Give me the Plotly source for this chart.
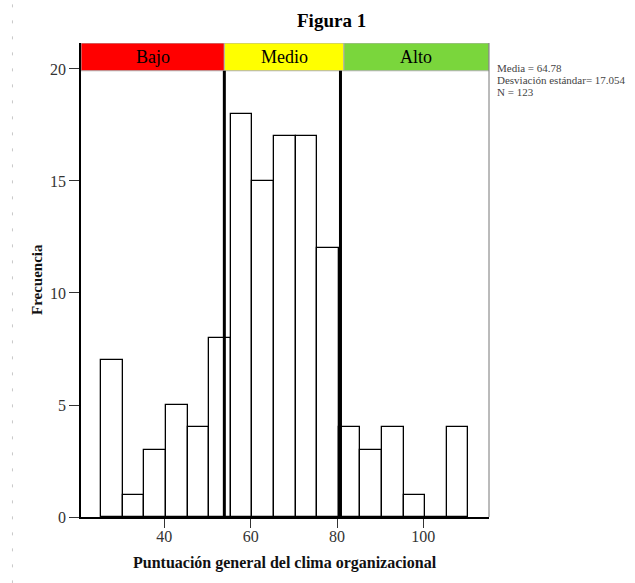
import plotly.graph_objects as go

# Data
bin_left = [25.4, 30.4, 35.4, 40.4, 45.4, 50.4, 55.4, 60.4, 65.4, 70.4, 75.4,
            80.4, 85.4, 90.4, 95.4, 100.4, 105.4]
counts = [7, 1, 3, 5, 4, 8, 18, 15, 17, 17, 12, 4, 3, 4, 1, 0, 4]
bin_width = 5
cut_points = [53.9, 80.8]
band_names = ["Bajo", "Medio", "Alto"]
band_edges = [20.7, 53.9, 81.6, 115.2]
band_colors = ["#ff0000", "#ffff00", "#7ad63c"]
x_ticks = [40, 60, 80, 100]
y_ticks = [0, 5, 10, 15, 20]
stats_lines = ["Media = 64.78", "Desviación estándar= 17.054", "N = 123"]

x_range = [band_edges[0], band_edges[-1]]
y_range = [0, 21.16]
band_bottom = 19.92

SERIF = "Liberation Serif, Times New Roman, serif"

fig = go.Figure()
fig.add_trace(go.Bar(
    x=[b + bin_width / 2 for b in bin_left],
    y=counts,
    width=bin_width,
    marker=dict(color="white", line=dict(color="black", width=1.3)),
    hoverinfo="x+y",
))

shapes = []
# colored bands at top
for i, name in enumerate(band_names):
    shapes.append(dict(type="rect", xref="x", yref="y",
                       x0=band_edges[i], x1=band_edges[i + 1],
                       y0=band_bottom, y1=y_range[1],
                       fillcolor=band_colors[i],
                       line=dict(color="#b0b0b0", width=1), layer="above"))
# thick vertical cut lines
for c in cut_points:
    shapes.append(dict(type="line", xref="x", yref="y", x0=c, x1=c,
                       y0=0, y1=band_bottom,
                       line=dict(color="black", width=3), layer="above"))
# right frame line
shapes.append(dict(type="line", xref="paper", yref="paper", x0=1, x1=1, y0=0, y1=1,
                   line=dict(color="#777777", width=1)))
# faint dashed guide at far left of page
shapes.append(dict(type="line", xref="paper", yref="paper",
                   x0=-0.168, x1=-0.168, y0=-0.14, y1=1.09,
                   line=dict(color="#c8c8c8", width=1, dash="3px,13px")))

annotations = []
for i, name in enumerate(band_names):
    annotations.append(dict(x=(band_edges[i] + band_edges[i + 1]) / 2,
                            y=(band_bottom + y_range[1]) / 2,
                            xref="x", yref="y", text=name, showarrow=False,
                            font=dict(family=SERIF, size=18, color="black")))
annotations.append(dict(x=0.615, y=1, xref="paper", yref="paper", yshift=23,
                        yanchor="middle",
                        text="<b>Figura 1</b>", showarrow=False,
                        font=dict(family=SERIF, size=19, color="black")))
annotations.append(dict(x=0.5, y=0, xref="paper", yref="paper", yshift=-46,
                        yanchor="middle",
                        text="<b>Puntuación general del clima organizacional</b>",
                        showarrow=False,
                        font=dict(family=SERIF, size=16, color="#111")))
annotations.append(dict(x=0, y=0.5, xref="paper", yref="paper", xshift=-44,
                        xanchor="center", yanchor="middle",
                        text="<b>Frecuencia</b>", textangle=-90, showarrow=False,
                        font=dict(family=SERIF, size=15, color="#111")))
for k, line in enumerate(stats_lines):
    annotations.append(dict(x=1, y=20, xref="paper", yref="y", xshift=6,
                            yshift=-12 * k + 1,
                            xanchor="left", yanchor="middle", align="left",
                            text=line, showarrow=False,
                            font=dict(family=SERIF, size=11, color="#444")))

fig.update_layout(
    width=635, height=583,
    margin=dict(l=81, r=146, t=43, b=66),
    paper_bgcolor="white", plot_bgcolor="white",
    showlegend=False,
    bargap=0,
    shapes=shapes,
    annotations=annotations,
    xaxis=dict(range=x_range, tickvals=x_ticks, showgrid=False, zeroline=False,
               showline=True, linecolor="black", linewidth=1.5,
               ticks="outside", ticklen=9, tickcolor="#333", tickwidth=1.3,
               ticklabelstandoff=-5,
               tickfont=dict(family=SERIF, size=16, color="#333")),
    yaxis=dict(range=y_range, tickvals=y_ticks, showgrid=False, zeroline=False,
               showline=True, linecolor="black", linewidth=1.5,
               ticks="outside", ticklen=10, tickcolor="#333", tickwidth=1.3,
               tickfont=dict(family=SERIF, size=16, color="#333")),
)

fig.write_html("out.html")
